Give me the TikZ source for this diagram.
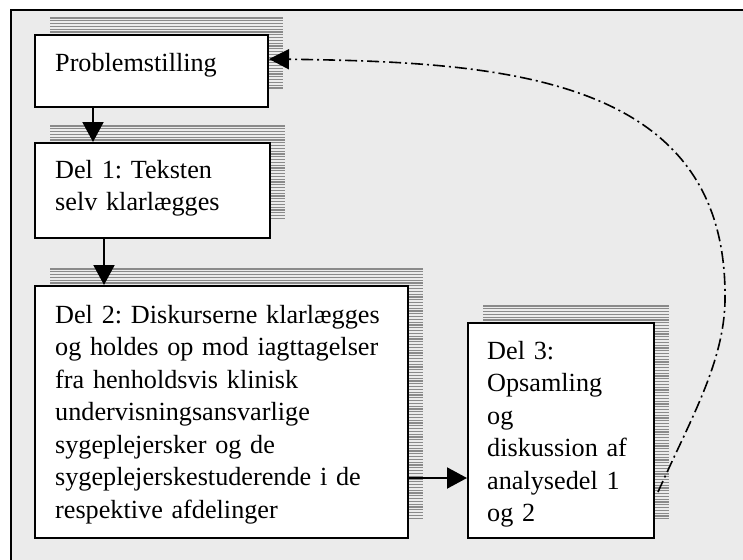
\documentclass[tikz,border=0pt]{standalone}
\usepackage{fontspec}
\setmainfont{Liberation Serif}
\usetikzlibrary{calc,arrows.meta}

\definecolor{panelgray}{HTML}{EBEBEB}
\definecolor{hatchgray}{HTML}{8A8A8A}

% horizontally hatched drop shadow: #1,#2 top left, #3,#4 bottom right
\newcommand\hatchshadow[4]{%
  \pgfmathtruncatemacro\hatchcount{(#4-#2)/2.8}%
  \foreach \k in {0,...,\hatchcount}{%
    \draw[hatchline] (#1,{#2+\k*2.8}) -- (#3,{#2+\k*2.8});}}

\begin{document}
\frenchspacing
\begin{tikzpicture}[x=1pt,y=-1pt,
  stepbox/.style={draw=black, line width=2pt, fill=white, rectangle,
    inner sep=0pt, anchor=north west},
  boxtext/.style={anchor=base west, align=left, inner sep=0pt,
    font=\fontsize{26.2}{32.5}\selectfont},
  hatchline/.style={draw=hatchgray, line width=1.1pt},
  flow/.style={line width=2pt, -{Triangle[length=20pt,width=21pt]}},
  feedback/.style={line width=1.6pt,
    dash pattern=on 12pt off 4pt on 2pt off 4pt,
    -{Triangle[length=20pt,width=20pt]}}]

\clip (0,0) rectangle (743,559);

% framed grey panel
\fill[panelgray] (11,10) rectangle (780,600);
\draw[line width=2pt] (11,10) rectangle (780,600);

% shadows behind the boxes
\hatchshadow{50}{18}{283}{90}
\hatchshadow{50}{126}{285}{221}
\hatchshadow{50}{269}{423}{521}
\hatchshadow{483}{306}{669}{521}

% boxes
\node[stepbox, minimum width=233pt, minimum height=72pt] (prob) at (34,34) {};
\node[stepbox, minimum width=235pt, minimum height=95pt] (del1) at (34,142) {};
\node[stepbox, minimum width=373pt, minimum height=252pt] (del2) at (34,285) {};
\node[stepbox, minimum width=186pt, minimum height=215pt] (del3) at (467,322) {};

% box texts
\node[boxtext, text width=210pt] (probtext) at ($(prob.north west)+(21,38)$) {Problemstilling};
\node[boxtext, text width=210pt] (del1text) at ($(del1.north west)+(21,36)$)
  {Del 1: Teksten\\selv klarlægges};
\node[boxtext, text width=350pt] (del2text) at ($(del2.north west)+(21,38)$)
  {Del 2: Diskurserne klarlægges\\og holdes op mod iagttagelser\\fra henholdsvis klinisk\\undervisningsansvarlige\\sygeplejersker og de\\sygeplejerskestuderende i de\\respektive afdelinger};
\node[boxtext, text width=170pt] (del3text) at ($(del3.north west)+(20,37)$)
  {Del 3:\\Opsamling\\og\\diskussion af\\analysedel 1\\og 2};

% forward flow
\draw[flow] ($(prob.south west)+(59,0)$) -- ($(del1.north west)+(59,0)$);
\draw[flow] ($(del1.south west)+(70,0)$) -- ($(del2.north west)+(70,0)$);
\draw[flow] ($(del2.north east)+(0,193)$) -- ($(del3.north west)+(0,156)$);

% feedback loop back to the problem statement
\coordinate (loopstart) at ($(del3.south east)+(3,-47)$);
\coordinate (loopturn) at (725,295);
\draw[feedback] (loopstart) .. controls (690,420) and (726,360) .. (loopturn)
  .. controls (725,75) and (500,62) .. ($(prob.east)+(0,-12)$);
\end{tikzpicture}
\end{document}
